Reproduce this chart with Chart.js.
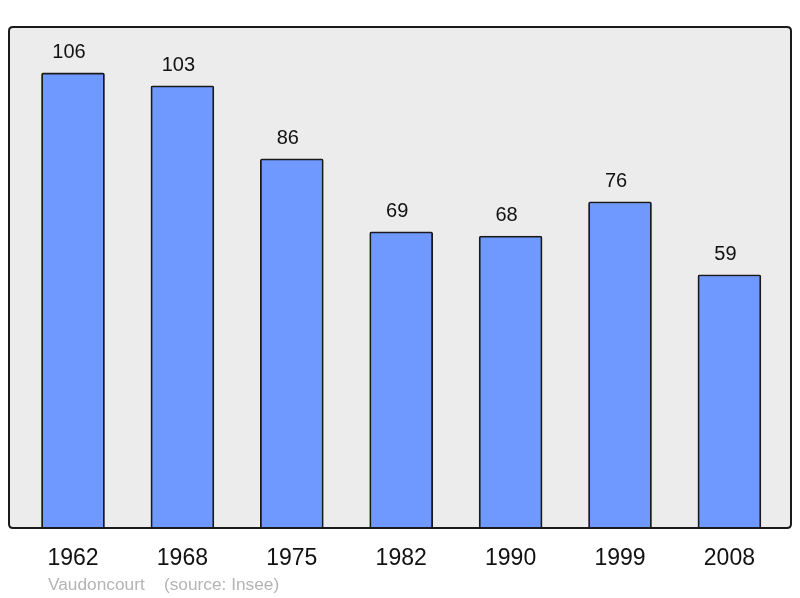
<!DOCTYPE html>
<html>
<head>
<meta charset="utf-8">
<script src="https://cdn.jsdelivr.net/npm/chart.js@4/dist/chart.umd.min.js"></script>
<style>
  html, body { margin: 0; padding: 0; background: #fff; }
  #wrap { width: 800px; height: 598px; }
</style>
</head>
<body>
<div id="wrap"><canvas id="popChart" width="800" height="598"></canvas></div>
<script>
const years = ["1962", "1968", "1975", "1982", "1990", "1999", "2008"];
const population = [106, 103, 86, 69, 68, 76, 59];
const footerText = "Vaudoncourt    (source: Insee)";

const FONT = "'Liberation Sans', Arial, sans-serif";

function roundRect(ctx, x, y, w, h, r) {
  ctx.beginPath();
  ctx.moveTo(x + r, y);
  ctx.lineTo(x + w - r, y);
  ctx.quadraticCurveTo(x + w, y, x + w, y + r);
  ctx.lineTo(x + w, y + h - r);
  ctx.quadraticCurveTo(x + w, y + h, x + w - r, y + h);
  ctx.lineTo(x + r, y + h);
  ctx.quadraticCurveTo(x, y + h, x, y + h - r);
  ctx.lineTo(x, y + r);
  ctx.quadraticCurveTo(x, y, x + r, y);
  ctx.closePath();
}

const framePlugin = {
  id: "frame",
  beforeDatasetsDraw(chart) {
    const { ctx, chartArea: a } = chart;
    ctx.save();
    roundRect(ctx, a.left, a.top, a.right - a.left, a.bottom - a.top, 4);
    ctx.fillStyle = "#ececec";
    ctx.fill();
    ctx.restore();
  },
  afterDatasetsDraw(chart) {
    const { ctx, chartArea: a } = chart;
    ctx.save();
    roundRect(ctx, a.left, a.top, a.right - a.left, a.bottom - a.top, 4);
    ctx.lineWidth = 2;
    ctx.strokeStyle = "#1a1a1a";
    ctx.stroke();

    // value labels
    const meta = chart.getDatasetMeta(0);
    ctx.fillStyle = "#111";
    ctx.font = "20px " + FONT;
    ctx.textAlign = "center";
    ctx.textBaseline = "alphabetic";
    meta.data.forEach((bar, i) => {
      ctx.fillText(String(population[i]), bar.x - 4, bar.y - 15);
    });

    // footer
    ctx.fillStyle = "#b4b4b4";
    ctx.font = "17.3px " + FONT;
    ctx.textAlign = "left";
    ctx.fillText(footerText, 48, 590);
    ctx.restore();
  },
};

new Chart(document.getElementById("popChart"), {
  type: "bar",
  data: {
    datasets: [
      {
        data: population.map((v, i) => ({ x: i, y: v })),
        backgroundColor: "#7099ff",
        borderColor: "#1a1a1a",
        borderWidth: 1.8,
        borderRadius: 2,
        borderSkipped: "bottom",
        barThickness: 63,
      },
    ],
  },
  options: {
    responsive: false,
    animation: false,
    layout: { padding: { left: 9, right: 9, top: 27, bottom: 0 } },
    plugins: { legend: { display: false }, tooltip: { enabled: false } },
    scales: {
      x: {
        type: "linear",
        offset: false,
        min: -0.585,
        max: 6.563,
        bounds: "data",
        grid: { display: false, drawTicks: false, offset: false },
        border: { display: false },
        afterBuildTicks(scale) {
          scale.ticks = years.map((_, i) => ({ value: i }));
        },
        afterFit(scale) {
          scale.height = 70;
        },
        ticks: {
          autoSkip: false,
          maxRotation: 0,
          padding: 17,
          color: "#111",
          font: { family: FONT, size: 23 },
          callback: (value) => years[value] ?? "",
        },
      },
      y: {
        display: false,
        min: 0,
        max: 116.7,
      },
    },
  },
  plugins: [framePlugin],
});
</script>
</body>
</html>
